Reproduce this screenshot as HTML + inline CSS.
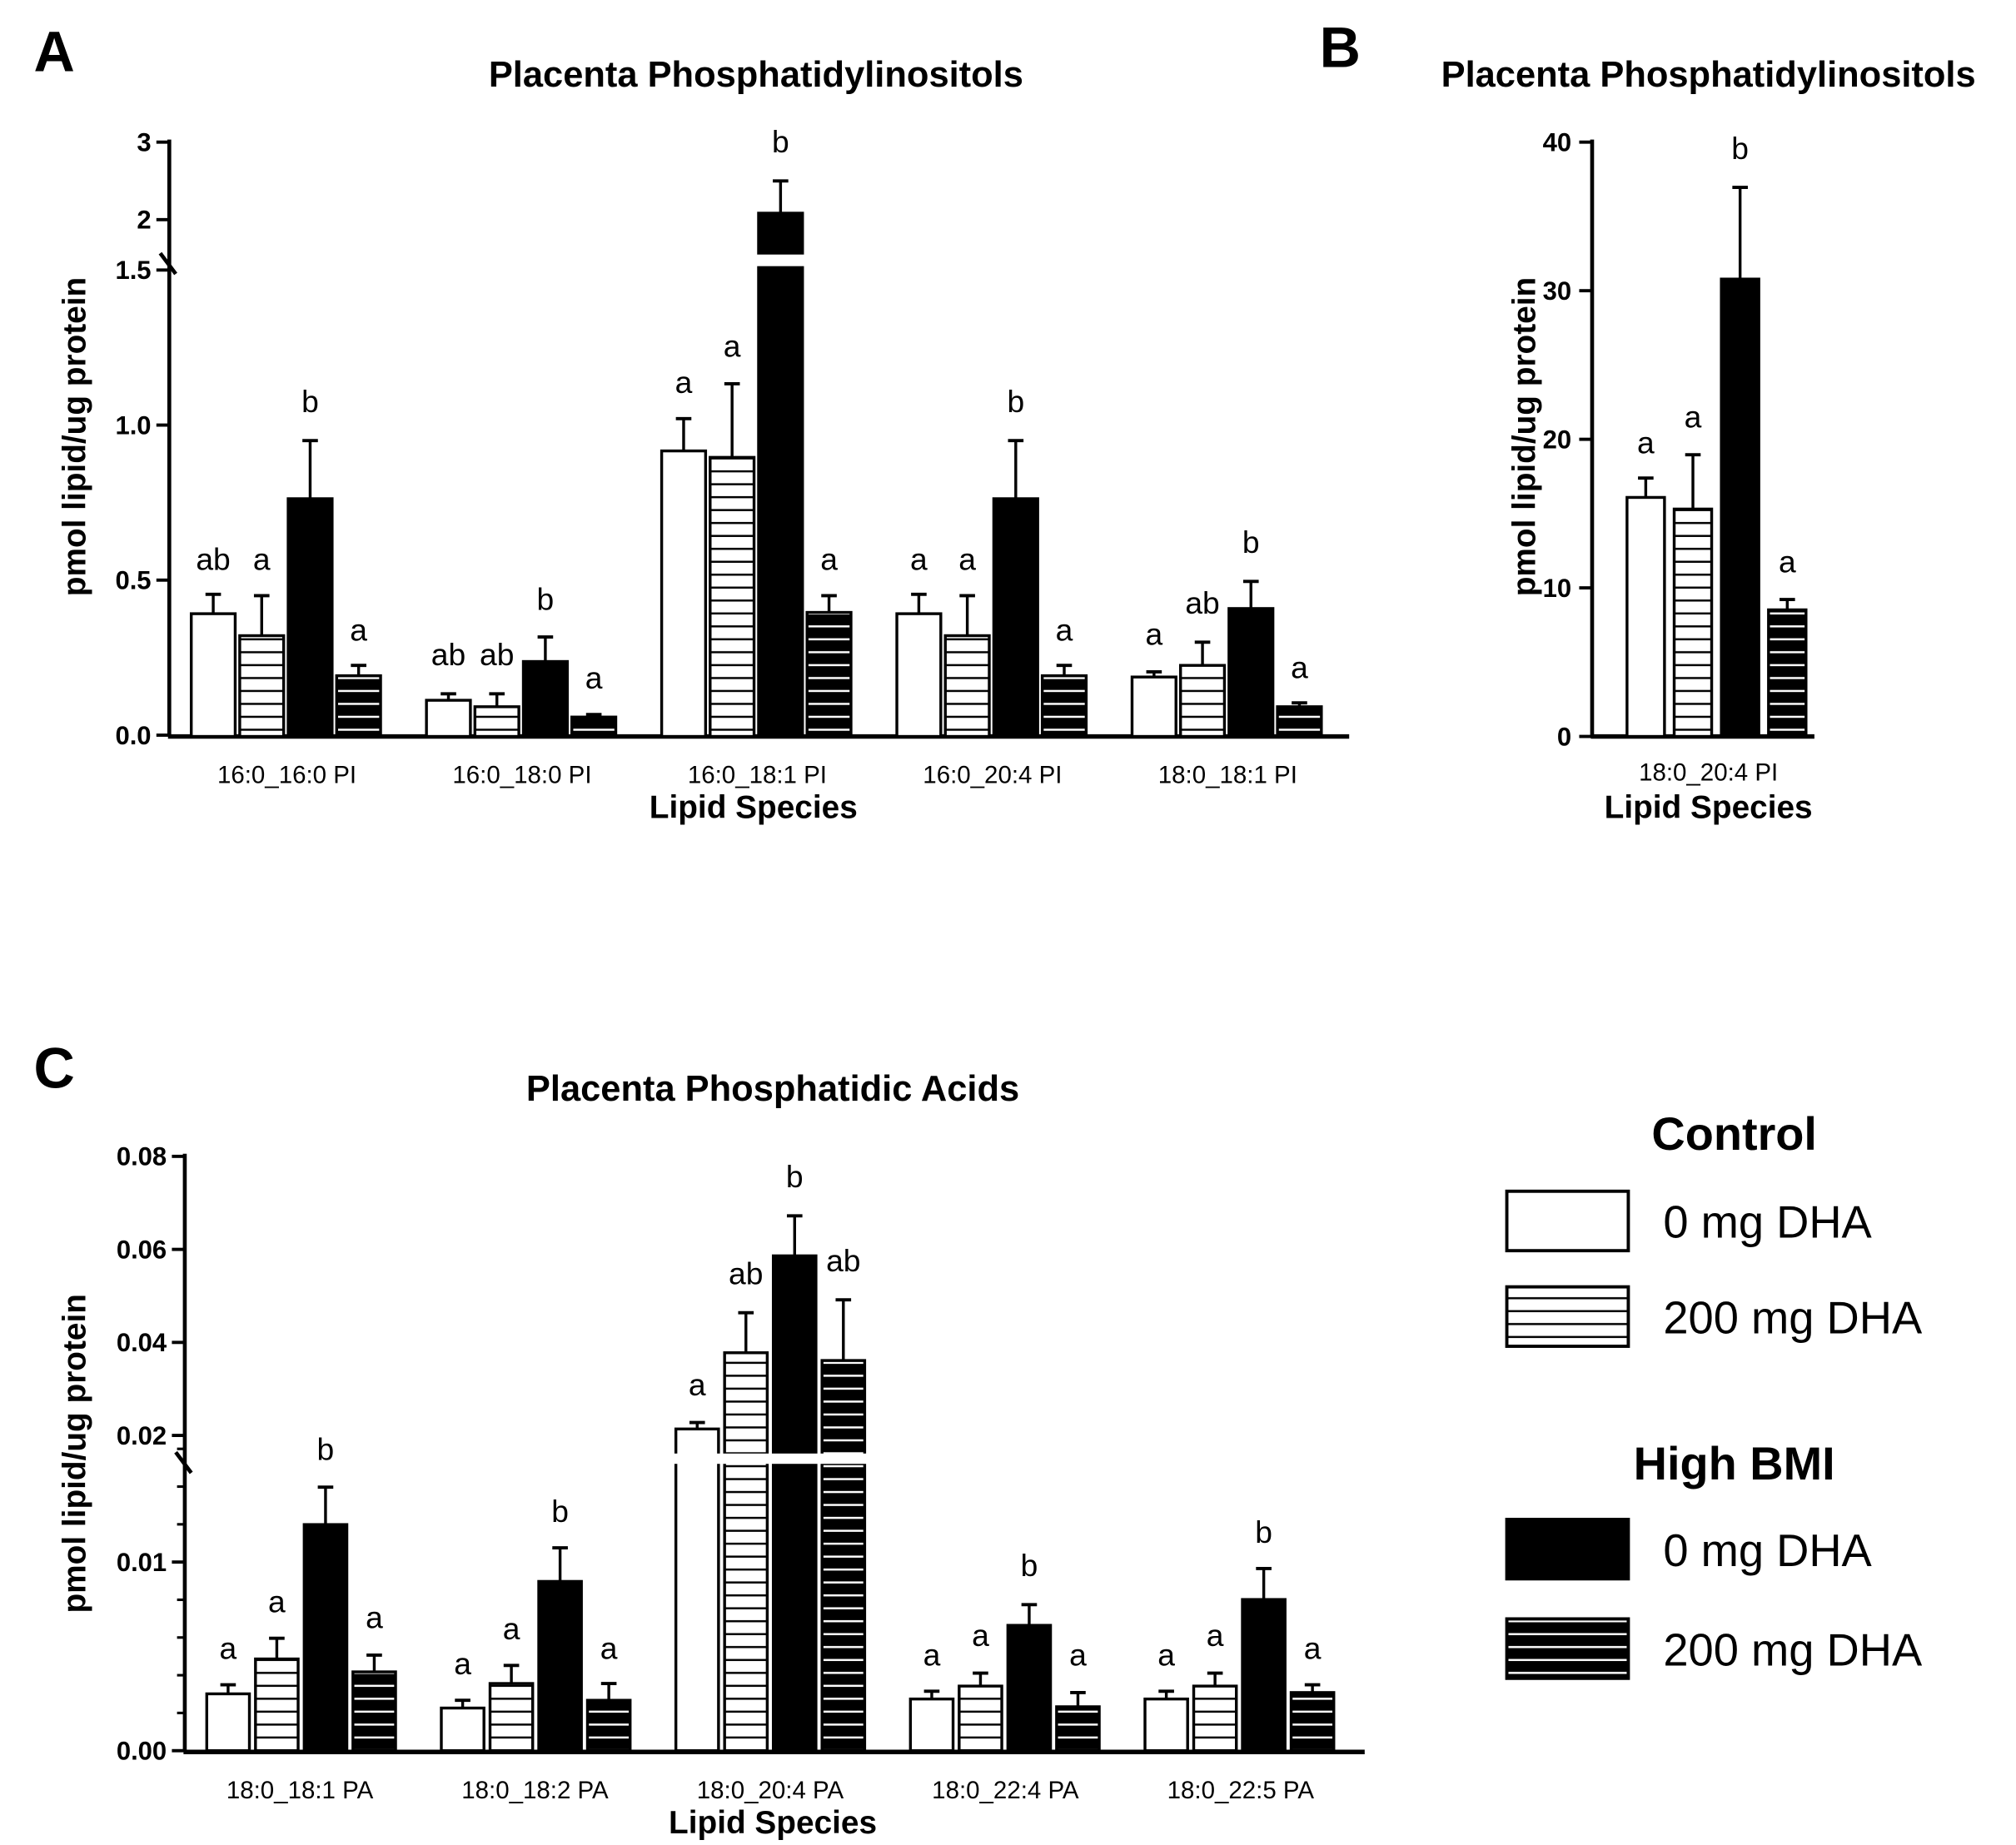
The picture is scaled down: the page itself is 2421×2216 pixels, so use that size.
<!DOCTYPE html>
<html><head><meta charset="utf-8"><style>
html,body{margin:0;padding:0;background:#fff;}
svg{display:block;}
text{font-family:"Liberation Sans",Arial,sans-serif;}
</style></head><body>
<svg id="s" width="2421" height="2216" viewBox="0 0 1560 1428" preserveAspectRatio="none" xmlns="http://www.w3.org/2000/svg">
<defs>
<pattern id="pw" width="10" height="10" patternUnits="userSpaceOnUse"><rect width="10" height="10" fill="#fff"/><rect y="4" width="10" height="1.6" fill="#000"/></pattern>
<pattern id="pb" width="10" height="10" patternUnits="userSpaceOnUse"><rect width="10" height="10" fill="#000"/><rect y="4" width="10" height="1.6" fill="#fff"/></pattern>
</defs>
<g id="g"></g>
</svg>
<script>
const g=document.getElementById('g');let h='';
function T(x,y,t,sz,opt){opt=opt||{};h+=`<text x="${x}" y="${y}" font-size="${sz}" text-anchor="${opt.a||'middle'}" font-weight="${opt.b?'bold':'normal'}" ${opt.r?`transform="rotate(-90 ${x} ${y})"`:''}>${t}</text>`;}
function L(x1,y1,x2,y2,w){h+=`<line x1="${x1}" y1="${y1}" x2="${x2}" y2="${y2}" stroke="#000" stroke-width="${w||2.5}"/>`;}
const fills=['#fff','url(#pw)','#000','url(#pb)'];
let LBL='';
function bar(x,w,top,base,k,err,lab,gap){
  h+=`<rect x="${x}" y="${top}" width="${w}" height="${base-top}" fill="${fills[k]}" stroke="#000" stroke-width="2.2"/>`;
  const cx=x+w/2;L(cx,top,cx,err,2.2);L(cx-6,err,cx+6,err,2.5);
  T(cx,lab,LBL,24);
  if(gap)h+=`<rect x="${x-3}" y="${gap[0]}" width="${w+6}" height="${gap[1]-gap[0]}" fill="#fff"/>`;
}
function chart(groups,x0,gs,bw,bs,base){
  groups.forEach((G,i)=>{G.t.forEach((t,k)=>{LBL=G.l[k];bar(x0+i*gs+k*bs,bw,t,base,k,G.e[k],G.ly[k],G.gap&&G.gap[k]);});});
}
// Panel A
T(42,55,'A',44,{b:1});T(585,67,'Placenta Phosphatidylinositols',28,{b:1});
L(131,108,131,570,3);L(130,570,1044,570,3.5);
[[110,'3'],[170,'2'],[209,'1.5'],[329,'1.0'],[449,'0.5'],[569,'0.0']].forEach(a=>{L(121,a[0],131,a[0],2.5);T(117,a[0]+7,a[1],20,{a:'end',b:1});});
L(124,196,136,212,3);
T(66,338,'pmol lipid/ug protein',25,{b:1,r:1});
chart([
 {t:[475,492,386,523],e:[460,461,341,515],ly:[441,441,319,496],l:['ab','a','b','a']},
 {t:[542,547,512,555],e:[537,537,493,553],ly:[515,515,472,533],l:['ab','ab','b','a']},
 {t:[349,354,165,474],e:[324,297,140,461],ly:[304,276,118,441],l:['a','a','b','a'],gap:[0,0,[197,206],0]},
 {t:[475,492,386,523],e:[460,461,341,515],ly:[441,441,319,496],l:['a','a','b','a']},
 {t:[524,515,471,547],e:[520,497,450,544],ly:[499,475,428,525],l:['a','ab','b','a']}
],148,182,34,37.5,570);
['16:0_16:0 PI','16:0_18:0 PI','16:0_18:1 PI','16:0_20:4 PI','18:0_18:1 PI'].forEach((t,i)=>T(222+i*182,606,t,19));
T(583,633,'Lipid Species',25,{b:1});
// Panel B
T(1037,52,'B',44,{b:1});T(1322,67,'Placenta Phosphatidylinositols',28,{b:1});
L(1232,108,1232,570,3);L(1231,570,1404,570,3.5);
[[110,'40'],[225,'30'],[340,'20'],[455,'10'],[570,'0']].forEach(a=>{L(1222,a[0],1232,a[0],2.5);T(1216,a[0]+7,a[1],20,{a:'end',b:1});});
T(1188,338,'pmol lipid/ug protein',25,{b:1,r:1});
chart([{t:[385,394,216,472],e:[370,352,145,464],ly:[351,331,123,443],l:['a','a','b','a']}],1259,0,29,36.5,570);
T(1322,604,'18:0_20:4 PI',19);T(1322,633,'Lipid Species',25,{b:1});
// Panel C
T(42,842,'C',44,{b:1});T(598,852,'Placenta Phosphatidic Acids',28,{b:1});
L(143,893,143,1356,3);L(142,1356,1056,1356,3.5);
[[895,'0.08'],[967,'0.06'],[1039,'0.04'],[1111,'0.02'],[1209,'0.01'],[1355,'0.00']].forEach(a=>{L(133,a[0],143,a[0],2.5);T(129,a[0]+7,a[1],20,{a:'end',b:1});});
for(let v=2;v<=16;v+=2){if(v==10)continue;const y=1355-v*14.6;L(137,y,143,y,2);}
L(136,1124,148,1140,3);
T(66,1125,'pmol lipid/ug protein',25,{b:1,r:1});
chart([
 {t:[1311,1284,1180,1294],e:[1304,1268,1151,1281],ly:[1284,1248,1130,1260],l:['a','a','b','a']},
 {t:[1322,1303,1224,1316],e:[1316,1289,1198,1303],ly:[1296,1269,1178,1284],l:['a','a','b','a']},
 {t:[1106,1047,972,1053],e:[1101,1016,941,1006],ly:[1080,994,919,984],l:['a','ab','b','ab'],gap:[[1125,1133],[1125,1133],[1125,1133],[1125,1133]]},
 {t:[1315,1305,1258,1321],e:[1309,1295,1242,1310],ly:[1289,1274,1220,1289],l:['a','a','b','a']},
 {t:[1315,1305,1238,1310],e:[1309,1295,1214,1304],ly:[1289,1274,1194,1284],l:['a','a','b','a']}
],160,181.5,33,37.7,1355);
['18:0_18:1 PA','18:0_18:2 PA','18:0_20:4  PA','18:0_22:4  PA','18:0_22:5 PA'].forEach((t,i)=>T(232+i*182,1392,t,19));
T(598,1419,'Lipid Species',25,{b:1});
// Legend
T(1342,890,'Control',36,{b:1});T(1342,1145,'High BMI',36,{b:1});
[[922,0,'0 mg DHA'],[996,1,'200 mg DHA'],[1176,2,'0 mg DHA'],[1253,3,'200 mg DHA']].forEach(a=>{
 h+=`<rect x="1166" y="${a[0]}" width="94" height="46" fill="${fills[a[1]]}" stroke="#000" stroke-width="2.5"/>`;
 T(1287,a[0]+36,a[2],35,{a:'start'});});
g.innerHTML=h;
</script>
</body></html>
